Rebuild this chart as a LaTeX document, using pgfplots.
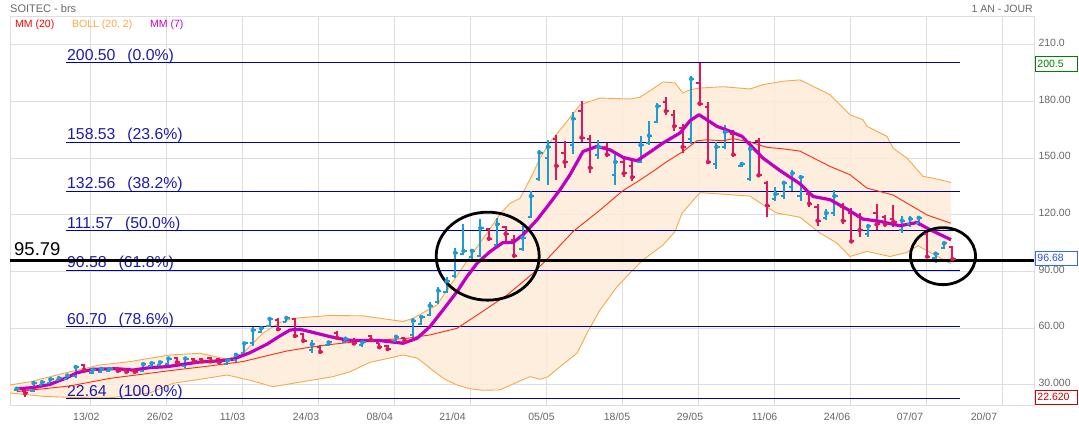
\documentclass[border=0pt]{standalone}
\usepackage{fontspec}
\setmainfont{Liberation Sans}
\usepackage{pgfplots}
\pgfplotsset{compat=1.18}
\usepackage{pgfplotstable}

\definecolor{upc}{HTML}{1E9BD4}
\definecolor{dnc}{HTML}{D8185F}
\definecolor{mmseven}{HTML}{C000C0}
\definecolor{mmtwenty}{HTML}{FF2A10}
\definecolor{boll}{HTML}{F5A94A}
\definecolor{bollfill}{HTML}{FDEBD7}
\definecolor{fib}{HTML}{0000A8}
\definecolor{fibtxt}{HTML}{1A1AB0}
\definecolor{gridc}{HTML}{DEDEDE}
\definecolor{txtgray}{HTML}{666666}

\pgfdeclareplotmark{otick}{\pgfpathmoveto{\pgfqpoint{-3.2pt}{0pt}}\pgfpathlineto{\pgfqpoint{0pt}{0pt}}\pgfusepathqstroke}
\pgfdeclareplotmark{ctick}{\pgfpathmoveto{\pgfqpoint{0pt}{0pt}}\pgfpathlineto{\pgfqpoint{3.2pt}{0pt}}\pgfusepathqstroke}

\pgfplotstableread{
i o h l c
0 27.2 28.6 26.8 28.0
2 26.8 31.8 26.2 31.0
3 29.8 32.2 29.3 31.5
4 31.0 33.5 30.5 33.0
5 32.5 34.1 31.9 33.6
6 33.0 35.8 32.4 35.0
7 34.5 40.6 33.6 39.5
9 36.5 38.9 35.8 38.0
10 37.0 38.9 36.5 38.5
11 37.3 38.9 37.0 38.5
15 37.5 41.5 37.0 41.0
16 40.0 41.8 39.7 41.5
17 40.8 42.3 40.6 42.0
18 41.0 44.7 40.6 44.0
20 40.0 44.7 39.0 44.0
25 41.0 43.6 40.6 43.0
26 43.0 46.7 42.3 46.0
27 47.0 53.0 46.0 52.0
28 52.0 60.5 50.8 59.0
29 58.0 60.5 57.5 60.0
30 61.0 66.1 60.5 65.0
32 63.5 66.1 63.2 65.5
35 48.5 53.7 47.0 51.5
37 51.0 53.0 50.8 52.5
39 52.5 55.3 52.1 54.5
41 51.0 53.5 50.3 52.5
45 53.5 56.5 53.0 55.5
47 56.5 65.3 55.6 64.0
48 62.5 67.1 61.8 66.0
49 67.0 74.1 66.5 72.0
50 74.0 81.7 73.0 80.0
51 79.0 87.4 78.6 85.0
52 87.5 102.4 86.5 100.0
53 99.5 115.3 98.9 101.0
54 98.0 101.5 96.5 101.0
55 98.5 118.0 97.6 113.0
57 104.0 118.3 103.3 115.0
60 102.0 113.9 101.0 108.0
61 119.0 132.5 118.3 130.0
62 139.0 154.5 138.0 153.0
63 150.0 159.8 136.0 156.0
66 157.0 174.5 152.2 171.0
69 152.0 159.8 149.8 156.0
71 141.0 152.2 136.0 148.0
74 148.0 161.6 147.5 157.0
75 158.0 170.0 157.2 162.0
76 169.0 179.3 168.7 177.5
80 160.0 193.4 157.5 192.0
83 147.0 158.6 144.5 156.0
84 156.0 167.4 154.7 164.0
86 146.0 147.4 145.2 147.0
87 139.0 159.0 137.8 155.0
90 128.5 134.6 127.5 131.0
91 130.0 137.8 128.3 137.0
92 135.0 143.9 132.5 142.0
93 130.0 141.3 127.2 140.0
96 118.5 123.1 117.1 121.0
97 121.0 133.0 119.6 130.0
101 110.0 115.3 108.3 114.0
105 112.0 119.2 110.4 117.0
106 115.0 119.2 113.6 118.0
107 116.0 119.2 114.0 118.5
109 97.0 100.6 94.5 99.5
110 102.5 106.4 101.9 105.0
}\upbars

\pgfplotstableread{
i o h l c
1 27.0 27.6 23.5 25.5
8 40.8 41.2 37.2 38.0
12 39.0 39.7 37.0 37.5
13 38.5 38.9 36.5 37.0
14 38.0 38.5 36.5 37.0
19 44.5 44.7 41.5 42.0
21 44.0 44.1 41.5 42.5
22 43.5 44.1 41.5 42.5
23 44.5 44.7 41.5 42.5
24 43.5 44.1 41.5 42.0
31 64.5 65.7 58.4 59.5
33 65.0 65.7 54.8 56.0
34 57.0 57.7 52.4 53.5
36 50.0 51.0 46.3 47.5
38 57.5 58.5 54.0 55.0
40 54.0 54.7 51.2 52.0
42 56.0 56.5 53.3 54.0
43 52.0 52.4 49.4 50.0
44 50.5 51.2 48.5 49.0
46 55.0 55.6 53.0 53.5
56 112.5 113.3 106.4 107.5
58 113.5 114.3 105.9 110.0
59 107.0 109.5 97.1 98.5
64 160.0 162.5 138.6 146.0
65 153.0 159.3 144.8 148.0
67 175.0 180.2 158.6 161.0
68 160.0 162.5 142.2 145.0
70 156.0 158.1 150.5 152.0
72 148.0 150.1 139.9 142.0
73 146.0 149.2 137.8 140.0
77 180.0 182.3 173.0 175.0
78 173.0 175.7 164.5 167.0
79 166.0 168.1 152.9 156.0
81 190.0 200.5 177.5 179.0
82 177.0 179.8 147.5 148.0
85 163.0 165.2 150.5 152.0
88 159.0 161.0 139.9 141.0
89 137.0 138.1 118.7 125.0
94 131.0 132.5 124.2 126.0
95 124.0 125.9 113.9 117.0
98 124.0 126.3 115.1 117.0
99 121.0 123.6 105.4 106.0
100 119.0 121.3 108.3 112.0
102 121.0 125.9 111.8 115.0
103 119.0 120.1 113.6 115.0
104 118.0 125.4 113.6 116.5
108 110.0 111.3 97.6 98.0
111 103.0 103.4 96.5 96.68
}\dnbars

\newcommand{\fibfont}{\fontsize{15.8}{18}\selectfont}
\newcommand{\smallfont}{\fontsize{10.5}{12}\selectfont}

\begin{document}
\begin{tikzpicture}
\useasboundingbox (0pt,0pt) rectangle (1079pt,427pt);
\begin{axis}[
  at={(10pt,21pt)}, anchor=south west,
  scale only axis, width=1024pt, height=389pt,
  xmin=10, xmax=1034, ymin=18.88, ymax=224.8,
  axis line style={gridc, line width=1pt},
  major tick length=0pt,
  grid=major,
  major grid style={gridc, line width=1pt},
  xtick={90,166.1,242.1,318.2,394.2,470.3,546.4,622.4,698.5,774.5,850.6,926.7,1002.7},
  xticklabels={},
  extra x ticks={86.3,160,232.5,306,379.7,452.5,541.5,617,690,764.5,837,910,984},
  extra x tick labels={13/02,26/02,11/03,24/03,08/04,21/04,05/05,18/05,29/05,11/06,24/06,07/07,20/07},
  extra x tick style={grid=none, major tick length=0pt,
     xticklabel style={font=\smallfont, text=txtgray, yshift=-3pt}},
  ytick={30,60,90,120,150,180,210},
  yticklabels={30.000,60.00,90.00,120.00,150.00,180.00,210.0},
  yticklabel pos=right,
  yticklabel style={anchor=west, xshift=1pt, yshift=2pt, font=\smallfont, text=txtgray},
]
% Bollinger fill
\addplot[fill=bollfill, fill opacity=0.85, draw=none, forget plot] coordinates {
(10,30) (30,31.7) (70,37) (100,40.6) (130,42.4) (170,45.9) (200,46.8) (227,43.6)
(243,46.8) (263,57.5) (280,63.1) (293,65.3) (330,66.8) (363,66.6) (403,63.6) (413,65.3)
(437,72.4) (453,84.8) (470,98) (487,110.4) (500,120.5) (510,126.2) (520,128.8) (533,142) (540,150.1)
(550,158.5) (563,166.9) (580,178.3) (600,181.9) (630,181.4) (640,182.3) (663,190.4)
(675,189.9) (683,184.6) (690,186.3) (700,187.2) (723,187.9) (750,186.7) (763,189)
(783,190.8) (800,191.5) (830,183.7) (850,173) (863,170.4) (867,166.9) (887,161.6)
(893,155.4) (907,150.1) (923,140.4) (933,139.5) (951,137.2)
(951,94.1) (918,103.7) (907,100.2) (890,98) (867,100.7) (850,98) (837,105.1) (820,110.4)
(800,118.8) (777,121) (763,125.4) (750,130) (720,131.1) (700,131.8) (682,120.9) (675,111.2)
(663,104.1) (643,96.2) (633,90.9) (617,82) (600,69.7) (587,57.4) (577,46.8) (560,39.7)
(548,34.4) (540,33) (530,34.4) (515,31) (500,27.4) (483,27.2) (470,28) (457,30) (445,33)
(433,37.6) (425,41) (417,44.3) (403,45.9) (390,44.3) (370,42) (350,37) (333,34.4)
(300,31.5) (273,29.1) (250,32.5) (227,35.3) (200,33) (173,30.9) (150,25.8) (110,23.2)
(77,23.3) (43,24) (10,25.8)} -- cycle;
% Bollinger bands
\addplot[boll, line width=0.9pt] coordinates {
(10,30) (30,31.7) (70,37) (100,40.6) (130,42.4) (170,45.9) (200,46.8) (227,43.6)
(243,46.8) (263,57.5) (280,63.1) (293,65.3) (330,66.8) (363,66.6) (403,63.6) (413,65.3)
(437,72.4) (453,84.8) (470,98) (487,110.4) (500,120.5) (510,126.2) (520,128.8) (533,142) (540,150.1)
(550,158.5) (563,166.9) (580,178.3) (600,181.9) (630,181.4) (640,182.3) (663,190.4)
(675,189.9) (683,184.6) (690,186.3) (700,187.2) (723,187.9) (750,186.7) (763,189)
(783,190.8) (800,191.5) (830,183.7) (850,173) (863,170.4) (867,166.9) (887,161.6)
(893,155.4) (907,150.1) (923,140.4) (933,139.5) (951,137.2)};
\addplot[boll, line width=0.9pt] coordinates {
(10,25.8) (43,24) (77,23.3) (110,23.2) (150,25.8) (173,30.9) (200,33) (227,35.3)
(250,32.5) (273,29.1) (300,31.5) (333,34.4) (350,37) (370,42) (390,44.3) (403,45.9)
(417,44.3) (425,41) (433,37.6) (445,33) (457,30) (470,28) (483,27.2) (500,27.4)
(515,31) (530,34.4) (540,33) (548,34.4) (560,39.7) (577,46.8) (587,57.4) (600,69.7)
(617,82) (633,90.9) (643,96.2) (663,104.1) (675,111.2) (682,120.9) (700,131.8) (720,131.1)
(750,130) (763,125.4) (777,121) (800,118.8) (820,110.4) (837,105.1) (850,98) (867,100.7)
(890,98) (907,100.2) (918,103.7) (951,94.1)};

% Fibonacci levels
\addplot[fib, line width=1pt] coordinates {(66,200.5) (960,200.5)};
\addplot[fib, line width=1pt] coordinates {(66,158.53) (960,158.53)};
\addplot[fib, line width=1pt] coordinates {(66,132.56) (960,132.56)};
\addplot[fib, line width=1pt] coordinates {(66,111.57) (960,111.57)};
\addplot[fib, line width=1pt] coordinates {(66,90.58) (960,90.58)};
\addplot[fib, line width=1pt] coordinates {(66,60.70) (960,60.70)};
\addplot[fib, line width=1pt] coordinates {(66,22.64) (960,22.64)};

\node[anchor=base west, text=fibtxt, inner sep=0pt, yshift=2.7pt, font=\fibfont] at (axis cs:67,200.5) {200.50\hspace{0.75em}(0.0\%)};
\node[anchor=base west, text=fibtxt, inner sep=0pt, yshift=2.7pt, font=\fibfont] at (axis cs:67,158.53) {158.53\hspace{0.75em}(23.6\%)};
\node[anchor=base west, text=fibtxt, inner sep=0pt, yshift=2.7pt, font=\fibfont] at (axis cs:67,132.56) {132.56\hspace{0.75em}(38.2\%)};
\node[anchor=base west, text=fibtxt, inner sep=0pt, yshift=2.7pt, font=\fibfont] at (axis cs:67,111.57) {111.57\hspace{0.75em}(50.0\%)};
\node[anchor=base west, text=fibtxt, inner sep=0pt, yshift=2.7pt, font=\fibfont] at (axis cs:67,90.58) {90.58\hspace{0.75em}(61.8\%)};
\node[anchor=base west, text=fibtxt, inner sep=0pt, yshift=2.7pt, font=\fibfont] at (axis cs:67,60.70) {60.70\hspace{0.75em}(78.6\%)};
\node[anchor=base west, text=fibtxt, inner sep=0pt, yshift=2.7pt, font=\fibfont] at (axis cs:67,22.64) {22.64\hspace{0.75em}(100.0\%)};

% OHLC bars: up
\addplot[only marks, mark=none, upc, forget plot,
  error bars/.cd, y dir=both, y explicit, error mark=none,
  error bar style={upc, line width=2pt}]
  table[x expr={16.7+8.43*\thisrow{i}}, y=c,
        y error plus expr={\thisrow{h}-\thisrow{c}},
        y error minus expr={\thisrow{c}-\thisrow{l}}] {\upbars};
\addplot[only marks, mark=otick, mark options={upc, line width=2pt}] table[x expr={16.7+8.43*\thisrow{i}}, y=o] {\upbars};
\addplot[only marks, mark=ctick, mark options={upc, line width=2pt}] table[x expr={16.7+8.43*\thisrow{i}}, y=c] {\upbars};
% down
\addplot[only marks, mark=none, dnc, forget plot,
  error bars/.cd, y dir=both, y explicit, error mark=none,
  error bar style={dnc, line width=2pt}]
  table[x expr={16.7+8.43*\thisrow{i}}, y=c,
        y error plus expr={\thisrow{h}-\thisrow{c}},
        y error minus expr={\thisrow{c}-\thisrow{l}}] {\dnbars};
\addplot[only marks, mark=otick, mark options={dnc, line width=2pt}] table[x expr={16.7+8.43*\thisrow{i}}, y=o] {\dnbars};
\addplot[only marks, mark=ctick, mark options={dnc, line width=2pt}] table[x expr={16.7+8.43*\thisrow{i}}, y=c] {\dnbars};

% MM(20)
\addplot[mmtwenty, line width=0.9pt] coordinates {
(17,26.5) (70,29.5) (110,33.5) (170,37.6) (210,40.1) (243,42.4) (263,45) (287,48)
(310,50) (330,51.4) (363,53.3) (407,54.7) (430,56.5) (457,60) (480,68) (507,77.6)
(533,89.1) (548,97.1) (573,111.2) (600,122.6) (623,132.9) (640,138.5) (655,143.8)
(667,148.3) (683,153.6) (697,159.3) (707,159.8) (723,159.3) (733,160.4) (750,158.6)
(767,155.8) (783,155) (800,153.8) (830,145.7) (850,141.3) (867,134.2) (893,130.6)
(927,120) (951,115.6)};
% MM(7)
\addplot[mmseven, line width=3.2pt, line join=round] coordinates {
(17,28) (33,28.6) (50,30.3) (67,33.9) (77,36.5) (93,38.3) (117,38.6) (133,37.9)
(150,39.2) (167,39.7) (183,40.9) (200,42.2) (217,42.7) (233,43.6) (250,47.1) (267,51.6)
(280,56) (290,59.1) (300,59.5) (317,57.3) (330,55.6) (347,53.8) (363,53.5) (380,53.5)
(403,52.1) (417,54.7) (430,60.9) (443,69.7) (457,79.4) (467,87.4) (477,94.4) (490,100.6)
(503,105.4) (513,105.4) (523,109.5) (537,117.4) (550,126.3) (560,133.3) (570,141.3)
(583,153.6) (597,156.3) (610,154.5) (623,150.5) (637,148.7) (650,153.3) (663,158.1)
(680,163.4) (690,169.9) (699,173.1) (717,166.9) (730,164.3) (742,161.6) (750,157.2)
(763,150.1) (780,143.5) (800,136.5) (813,129.8) (830,128.1) (847,123.1) (863,117.8)
(880,116.6) (900,114.3) (917,116) (930,112.2) (951,106.9)};

% horizontal line 95.79
\addplot[black, line width=3.5pt] coordinates {(10,95.79) (1034,95.79)};
\node[anchor=base west, inner sep=0pt, font=\fontsize{18.5}{20}\selectfont] at (axis cs:14,98.3) {95.79};

% circles
\draw[black, line width=2.8pt] (axis cs:487.7,98.2) ellipse [x radius=51.5pt, y radius=44pt];
\draw[black, line width=2.8pt] (axis cs:943,98.2) ellipse [x radius=32.5pt, y radius=28.5pt];
\end{axis}

% header texts
\node[anchor=west, text=txtgray, inner sep=0pt, font=\fontsize{11}{13}\selectfont] at (10pt,418pt) {SOITEC - brs};
\node[anchor=east, text=txtgray, inner sep=0pt, font=\smallfont] at (1033pt,418pt) {1 AN - JOUR};
\node[anchor=west, text={rgb,255:red,255;green,0;blue,0}, inner sep=0pt, font=\smallfont] at (15pt,402pt) {MM (20)};
\node[anchor=west, text={rgb,255:red,255;green,166;blue,64}, inner sep=0pt, font=\smallfont] at (72pt,402pt) {BOLL (20, 2)};
\node[anchor=west, text={rgb,255:red,200;green,0;blue,200}, inner sep=0pt, font=\smallfont] at (150pt,402pt) {MM (7)};

% right value boxes
\node[draw={rgb,255:red,0;green,128;blue,0}, text={rgb,255:red,0;green,128;blue,0}, fill=white, anchor=west, line width=0.8pt,
  minimum height=14.5pt, text width=38pt, inner sep=2pt, align=left, font=\smallfont] at (1035pt,363pt) {200.5};
\node[draw={rgb,255:red,51;green,102;blue,255}, text={rgb,255:red,34;green,85;blue,221}, fill=white, anchor=west, line width=0.8pt,
  minimum height=14.5pt, text width=38pt, inner sep=2pt, align=left, font=\smallfont] at (1035pt,168.7pt) {96.68};
\node[draw={rgb,255:red,200;green,0;blue,0}, text={rgb,255:red,200;green,0;blue,0}, fill=white, anchor=west, line width=0.8pt,
  minimum height=14.5pt, text width=38pt, inner sep=2pt, align=left, font=\smallfont] at (1035pt,29.7pt) {22.620};
\end{tikzpicture}
\end{document}
